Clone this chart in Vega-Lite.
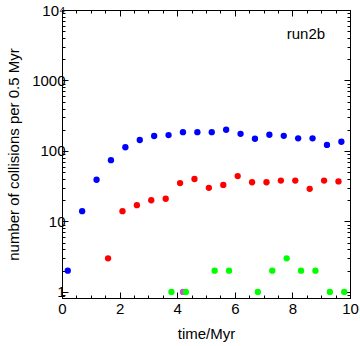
{
  "$schema": "https://vega.github.io/schema/vega-lite/v6.json",
  "width": 288,
  "height": 288,
  "autosize": "none",
  "padding": {"left": 62, "top": 10, "right": 10, "bottom": 48},
  "background": "white",
  "config": {
    "font": "Liberation Sans",
    "view": {"stroke": "black", "strokeWidth": 1},
    "axis": {
      "grid": false,
      "labelFont": "Liberation Sans",
      "titleFont": "Liberation Sans",
      "labelFontSize": 15,
      "titleFontSize": 15,
      "titleFontWeight": "normal",
      "labelColor": "black",
      "titleColor": "black",
      "tickColor": "black",
      "domainColor": "black",
      "labelFlush": false,
      "labelOverlap": false
    }
  },
  "datasets": {
    "pts": [
      {"t": 0.2, "n": 2, "s": "blue"},
      {"t": 0.7, "n": 14, "s": "blue"},
      {"t": 1.2, "n": 39, "s": "blue"},
      {"t": 1.7, "n": 74, "s": "blue"},
      {"t": 2.2, "n": 113, "s": "blue"},
      {"t": 2.7, "n": 143, "s": "blue"},
      {"t": 3.2, "n": 163, "s": "blue"},
      {"t": 3.7, "n": 168, "s": "blue"},
      {"t": 4.2, "n": 185, "s": "blue"},
      {"t": 4.7, "n": 185, "s": "blue"},
      {"t": 5.2, "n": 185, "s": "blue"},
      {"t": 5.7, "n": 200, "s": "blue"},
      {"t": 6.2, "n": 175, "s": "blue"},
      {"t": 6.7, "n": 149, "s": "blue"},
      {"t": 7.2, "n": 170, "s": "blue"},
      {"t": 7.7, "n": 164, "s": "blue"},
      {"t": 8.2, "n": 151, "s": "blue"},
      {"t": 8.7, "n": 151, "s": "blue"},
      {"t": 9.2, "n": 122, "s": "blue"},
      {"t": 9.7, "n": 135, "s": "blue"},
      {"t": 1.6, "n": 3, "s": "red"},
      {"t": 2.1, "n": 14, "s": "red"},
      {"t": 2.6, "n": 17, "s": "red"},
      {"t": 3.1, "n": 20, "s": "red"},
      {"t": 3.6, "n": 21, "s": "red"},
      {"t": 4.1, "n": 35, "s": "red"},
      {"t": 4.6, "n": 40, "s": "red"},
      {"t": 5.1, "n": 30, "s": "red"},
      {"t": 5.6, "n": 33, "s": "red"},
      {"t": 6.1, "n": 44, "s": "red"},
      {"t": 6.6, "n": 36, "s": "red"},
      {"t": 7.1, "n": 36, "s": "red"},
      {"t": 7.6, "n": 38, "s": "red"},
      {"t": 8.1, "n": 38, "s": "red"},
      {"t": 8.6, "n": 29, "s": "red"},
      {"t": 9.1, "n": 38, "s": "red"},
      {"t": 9.6, "n": 37, "s": "red"},
      {"t": 4.2, "n": 1, "s": "magenta"},
      {"t": 3.8, "n": 1, "s": "green"},
      {"t": 4.3, "n": 1, "s": "green"},
      {"t": 5.3, "n": 2, "s": "green"},
      {"t": 5.8, "n": 2, "s": "green"},
      {"t": 6.8, "n": 1, "s": "green"},
      {"t": 7.3, "n": 2, "s": "green"},
      {"t": 7.8, "n": 3, "s": "green"},
      {"t": 8.3, "n": 2, "s": "green"},
      {"t": 8.8, "n": 2, "s": "green"},
      {"t": 9.3, "n": 1, "s": "green"},
      {"t": 9.8, "n": 1, "s": "green"}
    ],
    "lbl": [{"t": 8.47, "n": 4600, "text": "run2b"}]
  },
  "resolve": {"axis": {"x": "independent", "y": "independent"}},
  "layer": [
    {
      "data": {"name": "pts"},
      "mark": {"type": "circle", "size": 40, "opacity": 1},
      "encoding": {
        "x": {
          "field": "t", "type": "quantitative",
          "scale": {"domain": [0, 10], "nice": false, "zero": false},
          "axis": {"orient": "bottom", "values": [0, 2, 4, 6, 8, 10], "tickSize": -6, "labelPadding": 9, "title": "time/Myr", "titlePadding": 10, "domain": true}
        },
        "y": {
          "field": "n", "type": "quantitative",
          "scale": {"type": "log", "domain": [0.82, 10000], "nice": false},
          "axis": {"orient": "left", "values": [1, 10, 100, 1000, 10000], "tickSize": -6, "labelPadding": 3, "labelExpr": "datum.value >= 10000 ? '10⁴' : format(datum.value, 'd')", "title": "number of collisions per 0.5 Myr", "titlePadding": 10, "domain": true}
        },
        "color": {
          "field": "s", "type": "nominal",
          "scale": {"domain": ["blue", "red", "magenta", "green"], "range": ["#0000ff", "#ff0000", "#e040e0", "#00ff00"]},
          "legend": null
        }
      }
    },
    {
      "data": {"name": "pts"},
      "mark": {"type": "point", "opacity": 0},
      "encoding": {
        "x": {
          "field": "t", "type": "quantitative",
          "axis": {"orient": "bottom", "values": [0.5, 1, 1.5, 2.5, 3, 3.5, 4.5, 5, 5.5, 6.5, 7, 7.5, 8.5, 9, 9.5], "tickSize": -3, "labels": false, "domain": false, "title": null}
        },
        "y": {
          "field": "n", "type": "quantitative",
          "axis": {"orient": "left", "values": [0.9, 2, 3, 4, 5, 6, 7, 8, 9, 20, 30, 40, 50, 60, 70, 80, 90, 200, 300, 400, 500, 600, 700, 800, 900, 2000, 3000, 4000, 5000, 6000, 7000, 8000, 9000], "tickSize": -3, "labels": false, "domain": false, "title": null}
        }
      }
    },
    {
      "data": {"name": "pts"},
      "mark": {"type": "point", "opacity": 0},
      "encoding": {
        "x": {
          "field": "t", "type": "quantitative",
          "axis": {"orient": "top", "values": [0, 2, 4, 6, 8, 10], "tickSize": -6, "labels": false, "domain": true, "title": null}
        },
        "y": {
          "field": "n", "type": "quantitative",
          "axis": {"orient": "right", "values": [1, 10, 100, 1000, 10000], "tickSize": -6, "labels": false, "domain": true, "title": null}
        }
      }
    },
    {
      "data": {"name": "pts"},
      "mark": {"type": "point", "opacity": 0},
      "encoding": {
        "x": {
          "field": "t", "type": "quantitative",
          "axis": {"orient": "top", "values": [0.5, 1, 1.5, 2.5, 3, 3.5, 4.5, 5, 5.5, 6.5, 7, 7.5, 8.5, 9, 9.5], "tickSize": -3, "labels": false, "domain": false, "title": null}
        },
        "y": {
          "field": "n", "type": "quantitative",
          "axis": {"orient": "right", "values": [0.9, 2, 3, 4, 5, 6, 7, 8, 9, 20, 30, 40, 50, 60, 70, 80, 90, 200, 300, 400, 500, 600, 700, 800, 900, 2000, 3000, 4000, 5000, 6000, 7000, 8000, 9000], "tickSize": -3, "labels": false, "domain": false, "title": null}
        }
      }
    },
    {
      "data": {"name": "lbl"},
      "mark": {"type": "text", "font": "Liberation Sans", "fontSize": 15, "color": "black", "align": "center", "baseline": "middle"},
      "encoding": {
        "x": {"field": "t", "type": "quantitative", "axis": null},
        "y": {"field": "n", "type": "quantitative", "axis": null},
        "text": {"field": "text"}
      }
    }
  ]
}
